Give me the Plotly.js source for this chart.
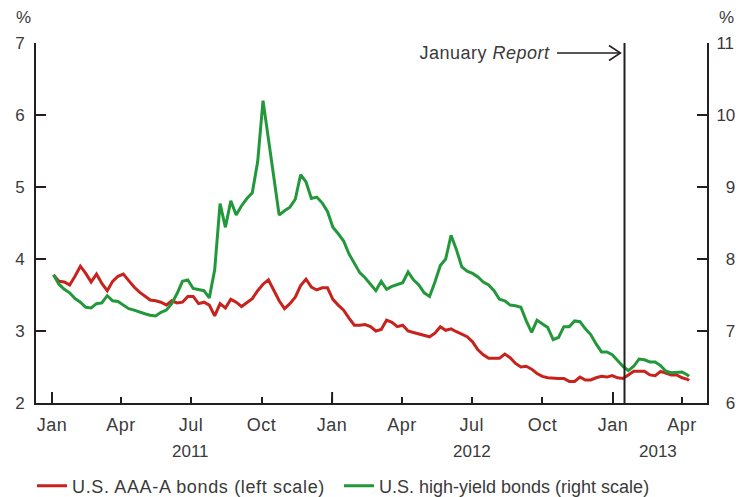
<!DOCTYPE html>
<html><head><meta charset="utf-8">
<script src="https://cdn.plot.ly/plotly-3.0.1.min.js"></script>
<style>html,body{margin:0;padding:0;background:#fff}#chart{width:741px;height:497px}
.legendtext{letter-spacing:0.65px}
#chart .xtick text{letter-spacing:0.5px}
#chart .annotation[data-index="5"] text{letter-spacing:0.5px}
</style>
</head><body><div id="chart"></div>
<script>
const dates = ['2011-01-03','2011-01-10','2011-01-17','2011-01-24','2011-01-31','2011-02-07','2011-02-14','2011-02-21','2011-02-28','2011-03-07','2011-03-14','2011-03-21','2011-03-28','2011-04-04','2011-04-11','2011-04-18','2011-04-25','2011-05-02','2011-05-09','2011-05-16','2011-05-23','2011-05-30','2011-06-06','2011-06-13','2011-06-20','2011-06-27','2011-07-04','2011-07-11','2011-07-18','2011-07-25','2011-08-01','2011-08-08','2011-08-15','2011-08-22','2011-08-29','2011-09-05','2011-09-12','2011-09-19','2011-09-26','2011-10-03','2011-10-10','2011-10-17','2011-10-24','2011-10-31','2011-11-07','2011-11-14','2011-11-21','2011-11-28','2011-12-05','2011-12-12','2011-12-19','2011-12-26',
'2012-01-02','2012-01-09','2012-01-16','2012-01-23','2012-01-30','2012-02-06','2012-02-13','2012-02-20','2012-02-27','2012-03-05','2012-03-12','2012-03-19','2012-03-26','2012-04-02','2012-04-09','2012-04-16','2012-04-23','2012-04-30','2012-05-07','2012-05-14','2012-05-21','2012-05-28','2012-06-04','2012-06-11','2012-06-18','2012-06-25','2012-07-02','2012-07-09','2012-07-16','2012-07-23','2012-07-30','2012-08-06','2012-08-13','2012-08-20','2012-08-27','2012-09-03','2012-09-10','2012-09-17','2012-09-24','2012-10-01','2012-10-08','2012-10-15','2012-10-22','2012-10-29','2012-11-05','2012-11-12','2012-11-19','2012-11-26','2012-12-03','2012-12-10','2012-12-17','2012-12-24','2012-12-31',
'2013-01-07','2013-01-14','2013-01-21','2013-01-28','2013-02-04','2013-02-11','2013-02-18','2013-02-25','2013-03-04','2013-03-11','2013-03-18','2013-03-25','2013-04-01','2013-04-08','2013-04-10'];

const aaaA = [3.78,3.69,3.68,3.64,3.76,3.90,3.80,3.68,3.79,3.66,
3.56,3.69,3.76,3.79,3.70,3.61,3.54,3.48,3.43,3.42,
3.40,3.36,3.42,3.39,3.40,3.48,3.48,3.38,3.40,3.36,
3.21,3.38,3.32,3.44,3.40,3.34,3.40,3.45,3.56,3.65,
3.71,3.56,3.42,3.31,3.38,3.47,3.63,3.72,3.61,3.57,
3.60,3.60,3.44,3.36,3.29,3.18,3.08,3.08,3.09,3.06,
3.00,3.02,3.15,3.12,3.06,3.08,3.00,2.98,2.96,2.94,
2.92,2.97,3.06,3.01,3.03,2.99,2.96,2.92,2.85,2.74,
2.67,2.62,2.62,2.62,2.68,2.63,2.55,2.50,2.51,2.47,
2.41,2.37,2.35,2.34,2.34,2.34,2.30,2.30,2.36,2.32,
2.32,2.35,2.37,2.36,2.38,2.35,2.34,2.39,2.44,2.44,
2.44,2.39,2.38,2.44,2.42,2.39,2.39,2.35,2.33,2.31];

const highYield = [7.78,7.65,7.58,7.53,7.45,7.40,7.33,7.32,7.38,7.39,
7.49,7.42,7.41,7.36,7.31,7.29,7.26,7.24,7.22,7.21,
7.26,7.29,7.38,7.52,7.69,7.71,7.59,7.58,7.56,7.46,
7.85,8.77,8.44,8.81,8.61,8.74,8.84,8.92,9.35,10.20,
9.68,9.19,8.61,8.67,8.72,8.83,9.17,9.07,8.84,8.86,
8.78,8.66,8.44,8.35,8.25,8.07,7.94,7.81,7.74,7.65,
7.56,7.69,7.58,7.62,7.65,7.67,7.82,7.71,7.64,7.53,
7.48,7.68,7.91,8.00,8.33,8.13,7.89,7.83,7.80,7.75,
7.68,7.64,7.56,7.44,7.42,7.36,7.35,7.33,7.14,6.98,
7.15,7.10,7.05,6.88,6.91,7.06,7.06,7.14,7.13,7.03,
6.95,6.82,6.71,6.71,6.67,6.59,6.51,6.45,6.51,6.61,
6.60,6.57,6.57,6.52,6.44,6.42,6.42,6.43,6.39,6.37];

const seriesNames = ['U.S. AAA-A bonds (left scale)', 'U.S. high-yield bonds (right scale)'];
const quarterTicks = ['2011-01-01','2011-04-01','2011-07-01','2011-10-01','2012-01-01','2012-04-01','2012-07-01','2012-10-01','2013-01-01','2013-04-01'];
const quarterLabels = ['Jan','Apr','Jul','Oct','Jan','Apr','Jul','Oct','Jan','Apr'];
const yearTicks = ['2011-01-01','2012-01-01','2013-01-01'];
const yearLabels = ['2011','2012','2013'];
const yearLabelPos = ['2011-07-01','2012-07-01','2013-03-01'];
const leftTicks = [2,3,4,5,6,7];
const rightTicks = [6,7,8,9,10,11];
const reportDate = '2013-01-16';

const FONT = 'Liberation Sans, Arial, Helvetica, sans-serif';
const TXT = '#3a3a3a';
const AX = '#231f20';

const traces = [
  {x: dates, y: aaaA, name: seriesNames[0], type: 'scatter', mode: 'lines',
   line: {color: '#c8221c', width: 3}, yaxis: 'y', legend: 'legend'},
  {x: dates, y: highYield, name: seriesNames[1], type: 'scatter', mode: 'lines',
   line: {color: '#23983b', width: 3}, yaxis: 'y2', legend: 'legend2'}
];

const px = v => (v - 36) / 671;
const py = v => (403 - v) / 360;

const shapes = yearTicks.map(d => ({type: 'line', xref: 'x', yref: 'paper', ysizemode: 'pixel', yanchor: 0,
  x0: d, x1: d, y0: 0, y1: 11, line: {color: AX, width: 2}}));
shapes.push({type: 'line', xref: 'x', yref: 'paper', x0: reportDate, x1: reportDate, y0: 0, y1: 1,
  line: {color: AX, width: 2}});
shapes.push({type: 'line', xref: 'paper', yref: 'paper', x0: px(557), x1: px(620), y0: py(53), y1: py(53),
  line: {color: AX, width: 1.5}});
shapes.push({type: 'path', xref: 'paper', yref: 'paper',
  path: `M ${px(609)} ${py(45.5)} L ${px(620.5)} ${py(53)} L ${px(609)} ${py(60.5)}`,
  line: {color: AX, width: 1.5}});

const annotations = yearLabels.map((t, i) => ({text: t, x: yearLabelPos[i], xref: 'x', y: py(451), yref: 'paper',
  showarrow: false, xanchor: 'center', yanchor: 'middle', font: {family: FONT, size: 17, color: TXT}}));
annotations.push({text: '%', x: px(23), y: py(17), xref: 'paper', yref: 'paper', showarrow: false,
  xanchor: 'center', yanchor: 'middle', font: {family: FONT, size: 17, color: TXT}});
annotations.push({text: '%', x: px(726), y: py(17), xref: 'paper', yref: 'paper', showarrow: false,
  xanchor: 'center', yanchor: 'middle', font: {family: FONT, size: 17, color: TXT}});
annotations.push({text: 'January <i>Report</i>', x: px(549), y: py(53), xref: 'paper', yref: 'paper', showarrow: false,
  xanchor: 'right', yanchor: 'middle', font: {family: FONT, size: 18, color: TXT}});

const makeLegend = x => ({orientation: 'h', xref: 'container', yref: 'container', x: x, y: 0.022,
  xanchor: 'left', yanchor: 'middle', font: {family: FONT, size: 18, color: TXT},
  bgcolor: 'rgba(0,0,0,0)', borderwidth: 0, itemwidth: 30});

const layout = {
  width: 741, height: 497,
  margin: {l: 36, r: 34, t: 43, b: 94},
  paper_bgcolor: '#fff', plot_bgcolor: '#fff',
  font: {family: FONT, size: 17, color: TXT},
  showlegend: true,
  legend: makeLegend(32 / 741),
  legend2: makeLegend(339 / 741),
  xaxis: {type: 'date', range: ['2010-12-11 04:00', '2013-05-03 12:00'],
    tickmode: 'array', tickvals: quarterTicks, ticktext: quarterLabels,
    ticks: 'inside', ticklen: 6, tickwidth: 2, tickcolor: AX,
    showline: true, linecolor: AX, linewidth: 2, showgrid: false, zeroline: false,
    tickfont: {family: FONT, size: 18, color: TXT}, ticklabelstandoff: 4},
  yaxis: {range: [2, 7], tickmode: 'array', tickvals: leftTicks,
    ticks: 'inside', ticklen: 10, tickwidth: 2, tickcolor: AX,
    showline: true, linecolor: AX, linewidth: 2, showgrid: false, zeroline: false,
    tickfont: {family: FONT, size: 17, color: TXT}, ticklabelstandoff: 6},
  yaxis2: {range: [6, 11], overlaying: 'y', side: 'right', anchor: 'x', tickmode: 'array', tickvals: rightTicks,
    ticktext: rightTicks.map(v => (v < 10 ? '\u2007' : '') + v),
    ticks: 'inside', ticklen: 10, tickwidth: 2, tickcolor: AX,
    showline: true, linecolor: AX, linewidth: 2, showgrid: false, zeroline: false,
    tickfont: {family: FONT, size: 17, color: TXT}, ticklabelstandoff: 4},
  shapes: shapes,
  annotations: annotations
};

Plotly.newPlot('chart', traces, layout, {displayModeBar: false, staticPlot: true});
</script>
</body></html>
